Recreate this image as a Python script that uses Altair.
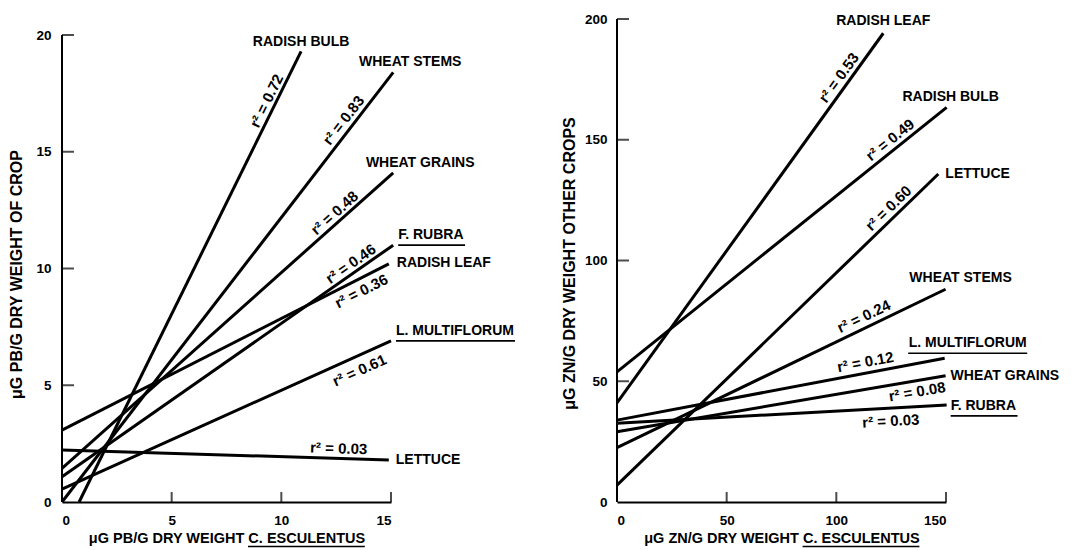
import math
import altair as alt
import pandas as pd

# ---------------- data: Pb panel (left) ----------------
pb_crops = ["RADISH BULB", "WHEAT STEMS", "WHEAT GRAINS", "F. RUBRA",
            "RADISH LEAF", "L. MULTIFLORUM", "LETTUCE"]
pb_x_start = [0.78, 0.0, 0.0, 0.0, 0.0, 0.0, 0.0]
pb_y_start = [0.0, 0.0, 1.44, 1.08, 3.08, 0.55, 2.23]
pb_x_end = [10.9, 15.1, 15.1, 15.1, 14.9, 15.0, 14.9]
pb_y_end = [19.3, 18.4, 14.1, 11.0, 10.2, 6.9, 1.8]
pb_r2 = ["0.72", "0.83", "0.48", "0.46", "0.36", "0.61", "0.03"]
pb_x_ticks = [0, 5, 10, 15]
pb_y_ticks = [0, 5, 10, 15, 20]

# ---------------- data: Zn panel (right) ----------------
zn_crops = ["RADISH LEAF", "RADISH BULB", "LETTUCE", "WHEAT STEMS",
            "L. MULTIFLORUM", "WHEAT GRAINS", "F. RUBRA"]
zn_x_start = [0.0, 0.0, 0.0, 0.0, 0.0, 0.0, 0.0]
zn_y_start = [41.0, 53.9, 7.0, 22.5, 33.9, 29.1, 32.6]
zn_x_end = [121.4, 150.3, 146.5, 149.8, 149.4, 149.8, 150.3]
zn_y_end = [194.1, 163.4, 135.8, 88.1, 59.5, 52.3, 40.2]
zn_r2 = ["0.53", "0.49", "0.60", "0.24", "0.12", "0.08", "0.03"]
zn_x_ticks = [0, 50, 100, 150]
zn_y_ticks = [0, 50, 100, 150, 200]

# ---------------- label layout ----------------
pb_r2_at = [9.7, 13.2, 12.7, 13.4, 13.4, 13.3, 12.6]
pb_r2_off = [9, 10, 9, 9, -12, -14, 10]
pb_name_off = [(0, -9, "center"), (17, -10, "center"), (27, -10, "center"),
               (5, -10, "left"), (8, -1, "left"), (5, -10, "left"), (7, 0, "left")]
zn_r2_at = [104.9, 127.4, 127.0, 114.7, 114.2, 136.0, 124.5]
zn_r2_off = [10, 10, 10, 11, 11, -11, -13]
zn_name_off = [(0, -12, "center"), (4, -10, "center"), (7, 0, "left"),
               (15, -11, "center"), (23, -15, "center"), (5, 0, "left"), (4, 1, "left")]
underlined = {"F. RUBRA", "L. MULTIFLORUM"}
SPECIES = "C. ESCULENTUS"

PW, PH = 329, 483
FONT = "Liberation Sans"
LABEL_FS = 14
R2_FS = 15
XTITLE_FS = 14.5
YTITLE_FS = 16

# approximate advance widths of Liberation Sans Bold (per 1000 em), for underlines
ADV = {' ': 278, '.': 278, '/': 278, 'A': 722, 'B': 722, 'C': 722, 'D': 722, 'E': 667,
       'F': 611, 'G': 778, 'H': 722, 'I': 278, 'L': 611, 'M': 833, 'N': 722, 'O': 778,
       'P': 667, 'R': 722, 'S': 667, 'T': 611, 'U': 722, 'W': 944, 'Y': 667, 'Z': 611,
       '\u03bc': 576}


def text_width(s, fs):
    return sum(ADV.get(ch, 600) for ch in s) * fs / 1000.0


def panel(crops, xs, ys, xe, ye, r2, r2_at, r2_off, name_off,
          xdom, ydom, ytop, xticks, yticks, xtitle, ytitle,
          ylabpad, ytitle_x, ytitle_y):
    kx = PW / (xdom[1] - xdom[0])
    ky = PH / (ydom[1] - ydom[0])
    xsc = alt.Scale(domain=xdom, nice=False, zero=False)
    ysc = alt.Scale(domain=ydom, nice=False, zero=False)
    xax = alt.Axis(values=xticks, title=xtitle, ticks=False, tickSize=0, grid=False,
                   domain=True, domainColor="black", domainWidth=2,
                   labelPadding=11, titlePadding=5, format="d",
                   titleFontSize=XTITLE_FS)
    yax = alt.Axis(values=yticks, title=ytitle, ticks=False, tickSize=0, grid=False,
                   domain=False, labelPadding=ylabpad, format="d",
                   titleFontSize=YTITLE_FS, titleX=ytitle_x, titleY=ytitle_y,
                   titleBaseline="middle")

    def X(f):
        return alt.X(f, scale=xsc, axis=xax)

    def Y(f):
        return alt.Y(f, scale=ysc, axis=yax)

    lines = pd.DataFrame(dict(crop=crops, x=xs, y=ys, x2=xe, y2=ye))
    layer_lines = alt.Chart(lines).mark_rule(color="black", strokeWidth=3).encode(
        x=X("x:Q"), y=Y("y:Q"), x2="x2:Q", y2="y2:Q")

    yline = alt.Chart(pd.DataFrame({"x": [0], "y": [0], "y2": [ytop]})).mark_rule(
        color="black", strokeWidth=2).encode(x=X("x:Q"), y=Y("y:Q"), y2="y2:Q")

    xt = pd.DataFrame({"v": [t for t in xticks if t != 0], "z": 0})
    xtick_layer = alt.Chart(xt).mark_tick(color="black", orient="vertical", size=10,
                                          thickness=2, yOffset=-5).encode(
        x=X("v:Q"), y=Y("z:Q"))
    yt = pd.DataFrame({"v": [t for t in yticks if t != 0], "z": 0})
    ytick_layer = alt.Chart(yt).mark_tick(color="black", orient="horizontal", size=12,
                                          thickness=2, xOffset=6).encode(
        x=X("z:Q"), y=Y("v:Q"))

    # r^2 labels, rotated along each regression line
    rows = []
    for i in range(len(crops)):
        t = r2_at[i]
        yy = ys[i] + (ye[i] - ys[i]) * (t - xs[i]) / (xe[i] - xs[i])
        theta = math.atan2((ye[i] - ys[i]) * ky, (xe[i] - xs[i]) * kx)
        d = r2_off[i]
        rows.append(dict(lx=t - d * math.sin(theta) / kx,
                         ly=yy + d * math.cos(theta) / ky,
                         ang=(360 - math.degrees(theta)) % 360,
                         txt="r\u00b2 = " + r2[i]))
    r2df = pd.DataFrame(rows)
    r2_layer = alt.Chart(r2df).mark_text(font=FONT, fontWeight="bold", fontSize=R2_FS,
                                         color="black", align="center",
                                         baseline="middle").encode(
        x=X("lx:Q"), y=Y("ly:Q"), text="txt:N", angle=alt.Angle("ang:Q", scale=None))

    # crop names at the line ends
    nrows, urows = [], []
    for i, c in enumerate(crops):
        dx, dy, al = name_off[i]
        lx = xe[i] + dx / kx
        ly = ye[i] - dy / ky
        nrows.append(dict(lx=lx, ly=ly, txt=c, al=al))
        if c in underlined:
            w = text_width(c, LABEL_FS) / kx
            x0 = lx if al == "left" else lx - w / 2
            urows.append(dict(ux=x0, ux2=x0 + w, uy=ly - 10 / ky))
    # underline of the species name in the x-axis title
    wt = text_width(xtitle, XTITLE_FS)
    ws = text_width(SPECIES, XTITLE_FS)
    x_end_px = PW / 2 + wt / 2
    urows.append(dict(ux=xdom[0] + (x_end_px - ws) / kx, ux2=xdom[0] + x_end_px / kx,
                      uy=-44.5 / ky))
    udf = pd.DataFrame(urows)
    ulayer = alt.Chart(udf).mark_rule(color="black", strokeWidth=1.6).encode(
        x=X("ux:Q"), x2="ux2:Q", y=Y("uy:Q"))

    ndf = pd.DataFrame(nrows)
    name_layers = []
    for al in ["left", "center"]:
        sub = ndf[ndf.al == al]
        name_layers.append(alt.Chart(sub).mark_text(font=FONT, fontWeight="bold",
                                                    fontSize=LABEL_FS, color="black",
                                                    align=al, baseline="middle").encode(
            x=X("lx:Q"), y=Y("ly:Q"), text="txt:N"))

    return alt.layer(layer_lines, yline, xtick_layer, ytick_layer, r2_layer, ulayer,
                     *name_layers).properties(width=PW, height=PH)


left = panel(pb_crops, pb_x_start, pb_y_start, pb_x_end, pb_y_end, pb_r2, pb_r2_at,
             pb_r2_off, pb_name_off, [0, 15], [0, 20 * 483 / 467], 20,
             pb_x_ticks, pb_y_ticks,
             "\u03bcG PB/G DRY WEIGHT " + SPECIES,
             "\u03bcG PB/G DRY WEIGHT OF CROP", 11, -46, 255)

right = panel(zn_crops, zn_x_start, zn_y_start, zn_x_end, zn_y_end, zn_r2, zn_r2_at,
              zn_r2_off, zn_name_off, [0, 150], [0, 200], 200,
              zn_x_ticks, zn_y_ticks,
              "\u03bcG ZN/G DRY WEIGHT " + SPECIES,
              "\u03bcG ZN/G DRY WEIGHT OTHER CROPS", 10, -48, 244)

chart = alt.hconcat(left, right, spacing=226, bounds="flush").properties(
    padding={"left": 0, "top": 4, "right": 5, "bottom": 2}
).configure_view(stroke=None).configure_axis(
    labelFont=FONT, labelFontWeight="bold", labelFontSize=13.5, labelColor="black",
    titleFont=FONT, titleFontWeight="bold", titleColor="black",
    labelAngle=0
)

chart.save("out.html", embed_options={"renderer": "svg", "actions": False})
